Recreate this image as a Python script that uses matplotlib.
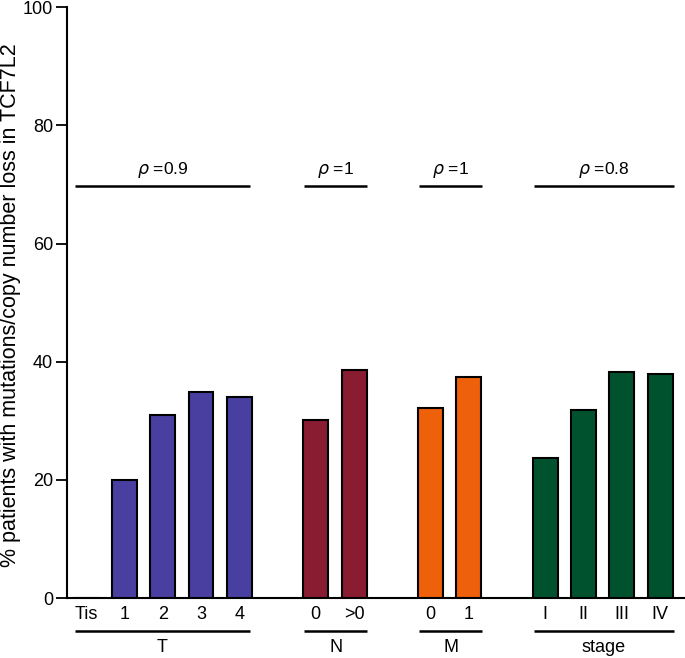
import numpy as np
import matplotlib
matplotlib.use("Agg")
import matplotlib.pyplot as plt

plt.rcParams['font.family'] = ['Liberation Sans', 'DejaVu Sans']

# data
t_labels = ['Tis', '1', '2', '3', '4']
t_vals = [0, 20.0, 31.0, 34.9, 34.1]
n_labels = ['0', '>0']
n_vals = [30.2, 38.6]
m_labels = ['0', '1']
m_vals = [32.2, 37.5]
s_labels = ['I', 'II', 'III', 'IV']
s_vals = [23.7, 31.9, 38.3, 37.9]

group_names = ['T', 'N', 'M', 'stage']
rho_text = ['0.9', '1', '1', '0.8']
colors = ['#483FA1', '#8A1C32', '#EE6009', '#00522F']

groups = [(t_labels, t_vals), (n_labels, n_vals), (m_labels, m_vals), (s_labels, s_vals)]

fig = plt.figure(figsize=(6.85, 6.58), dpi=100)
ax = fig.add_axes([0.098, 0.091, 0.902, 0.898])

gap = 1
start = 0
for (labs, vals), col, name, rho in zip(groups, colors, group_names, rho_text):
    xs = np.arange(start, start + len(vals))
    ax.bar(xs, vals, width=0.65, color=col, edgecolor='black', linewidth=1.5, zorder=3)
    for x, lab in zip(xs, labs):
        ax.text(x, -2.8, lab, ha='center', va='center', fontsize=13, clip_on=False)
    x0, x1 = xs[0] - 0.3, xs[-1] + 0.35
    if name == 'T':
        x1 = xs[-1] + 0.28
    ax.plot([x0, x1], [-5.5, -5.5], color='black', lw=1.8, clip_on=False, solid_capstyle='butt')
    ax.text((x0 + x1) / 2, -8.4, name, ha='center', va='center', fontsize=13, clip_on=False)
    ax.plot([x0, x1], [69.8, 69.8], color='black', lw=1.8, solid_capstyle='butt')
    ax.text((x0 + x1) / 2, 72.5, r'$\rho$ =' + rho, ha='center', va='center', fontsize=12.5)
    start = xs[-1] + 1 + gap

ax.set_xlim(-0.5, 15.65)
ax.set_ylim(0, 100)
ax.set_yticks([0, 20, 40, 60, 80, 100])
ax.set_xticks([])
ax.tick_params(axis='y', length=8, width=1.3, labelsize=13, pad=2)
ax.spines['top'].set_visible(False)
ax.spines['right'].set_visible(False)
ax.spines['left'].set_linewidth(1.5)
ax.spines['bottom'].set_linewidth(1.5)
fig.text(11 / 685, 1 - 305 / 658, '% patients with mutations/copy number loss in TCF7L2',
         rotation=90, ha='center', va='center', fontsize=15.5)

plt.savefig('out.png', dpi=100)
